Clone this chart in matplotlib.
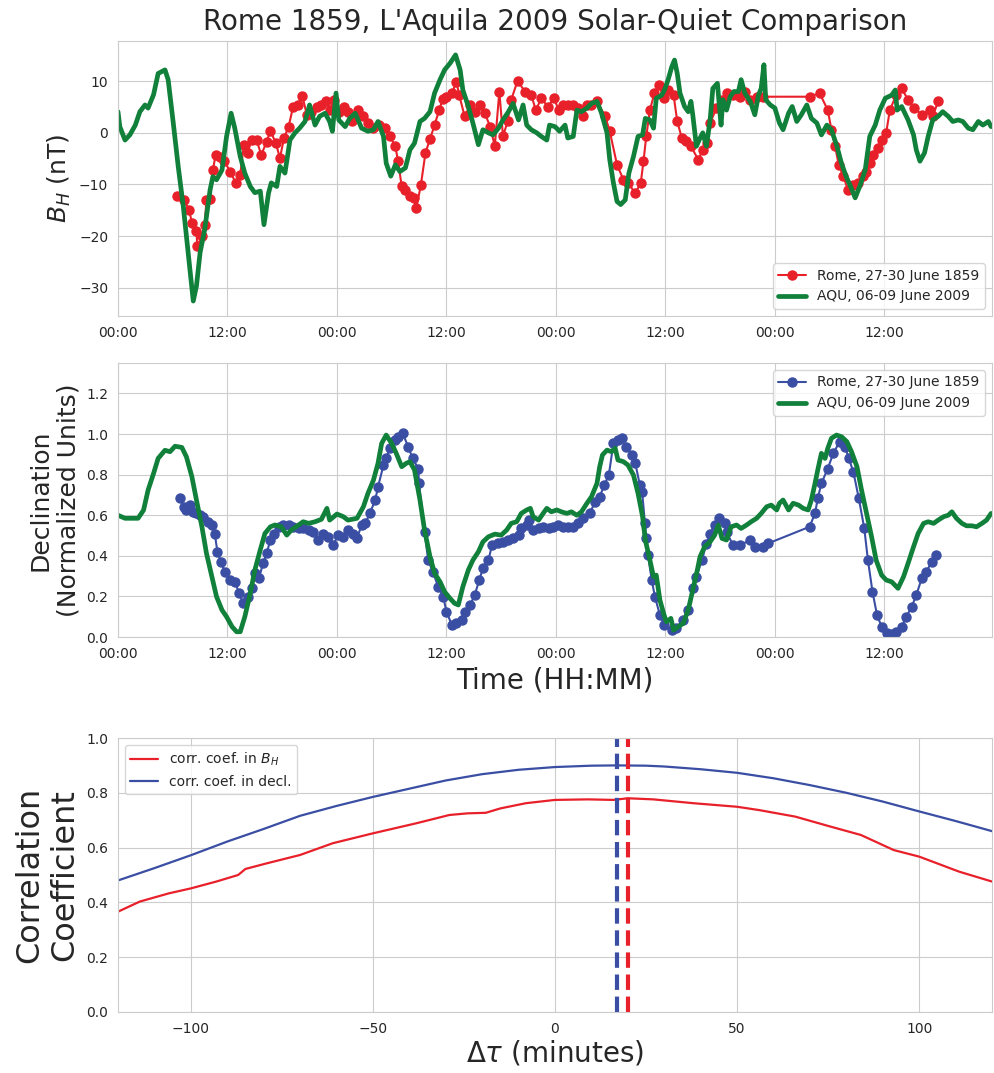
import numpy as np
import matplotlib
matplotlib.use("Agg")
import matplotlib.pyplot as plt
import seaborn as sns

# ---------------- data ----------------
# Top panel: B_H (nT) vs hours
aqu_bh_t = [0.0, 0.2, 0.77, 1.3, 1.9, 2.4, 2.96, 3.3, 3.9, 4.4, 5.15, 5.5, 6.06, 6.6, 7.16, 7.7, 8.25, 8.6, 9.0, 9.5,
            10.1, 10.4, 10.8, 11.4, 11.9, 12.4, 12.8, 13.4, 13.9, 14.5, 15.0, 15.6, 16.0, 16.5, 16.8, 17.4, 17.75, 18.3,
            18.85, 19.4, 19.9, 20.5, 21.0, 21.6, 22.1, 22.7, 23.2, 23.5, 23.9, 24.2, 24.9, 25.4, 26.0, 26.7, 27.4, 28.0,
            28.5, 29.1, 29.4, 29.9, 30.4, 30.9, 31.5, 32.0, 32.5, 33.1, 33.6, 34.2, 34.7, 35.3, 35.8, 36.4, 37.0, 37.5,
            37.8, 38.4, 38.9, 39.5, 40.0, 40.6, 41.1, 41.7, 42.2, 42.8, 43.3, 43.9, 44.4, 44.8, 45.3, 45.9, 46.4, 47.0,
            47.3, 47.9, 48.4, 49.0, 49.3, 49.9, 50.3, 50.8, 51.4, 51.9, 52.5, 53.0, 53.6, 53.9, 54.3, 54.7, 55.1, 55.6,
            56.0, 56.5, 57.0, 57.5, 57.8, 58.3, 58.7, 59.0, 59.6, 59.9, 60.3, 60.7, 61.0, 61.3, 61.6, 62.1, 62.5, 62.8,
            63.0, 63.4, 63.8, 64.1, 64.5, 64.9, 65.2, 65.7, 66.1, 66.3, 66.7, 67.1, 67.5, 68.0, 68.3, 68.7, 69.3, 69.8,
            70.2, 70.5, 70.8, 71.0, 71.5, 72.0, 72.5, 72.9, 73.5, 73.9, 74.4, 74.9, 75.5, 76.0, 76.6, 77.1, 77.7, 78.2,
            78.8, 79.3, 79.8, 80.3, 80.8, 81.3, 81.9, 82.4, 83.0, 83.5, 84.1, 84.8, 85.2, 85.4, 85.9, 86.6, 87.2, 87.5,
            87.9, 88.4, 88.8, 89.3, 89.9, 90.4, 91.0, 91.5, 92.1, 92.6, 93.2, 93.7, 94.3, 94.8, 95.4, 95.7]
aqu_bh_v = [4.1, 1.2, -1.4, -0.4, 1.5, 4.1, 5.4, 4.8, 7.4, 11.5, 12.2, 10.3, 1.9, -6.5, -14.3, -23.3, -32.6, -29.7, -23.2, -18.8,
            -11.0, -8.5, -9.1, -7.2, -0.7, 3.8, 0.9, -4.6, -7.8, -10.4, -11.6, -11.3, -17.8, -11.7, -9.7, -10.4, -6.5, -7.8,
            -1.4, 0.0, 0.9, 2.2, 5.4, 1.5, 3.2, 3.8, 2.2, 0.3, 7.7, 2.5, 1.2, 2.8, 3.8, 0.9, 0.3, 0.6,
            2.2, -0.7, -5.9, -8.4, -6.2, -7.5, -6.8, -3.3, -2.0, 2.2, 2.8, 4.1, 7.7, 10.3, 12.2, 13.5, 15.1, 12.2,
            8.3, 5.1, 1.9, -2.3, 0.6, 0.0, -0.4, 0.9, 2.5, 4.1, 5.7, 2.5, 5.4, 1.5, 0.6, 0.0, -0.7, -1.4,
            1.5, 1.2, 0.3, 1.5, -1.0, -0.7, 4.4, 4.1, 4.8, 5.7, 6.1, 3.8, 0.0, -5.2, -9.7, -13.3, -13.9, -13.0,
            -7.8, -4.6, -0.7, -0.4, 2.8, 2.5, 0.9, 6.7, 7.3, 8.3, 10.3, 12.8, 14.1, 11.5, 7.7, 5.1, 4.1, 6.1,
            3.5, -2.6, -1.0, 0.0, -2.6, 2.5, 8.6, 9.6, 1.5, 6.4, 4.4, 7.0, 8.0, 8.0, 10.3, 7.7, 6.1, 3.5,
            7.3, 8.6, 13.2, 6.4, 5.4, 4.8, 1.9, 0.6, 3.8, 5.1, 2.2, 3.5, 5.4, 2.8, 1.9, -0.4, 1.5, 0.6,
            -2.6, -5.9, -8.4, -10.4, -12.6, -10.4, -7.2, -0.7, 1.5, 4.4, 6.7, 7.3, 8.3, 4.4, 5.1, 2.5, -0.4, -3.3,
            -5.5, -3.9, -0.7, 2.5, 3.2, 4.1, 3.2, 2.2, 2.5, 2.2, 0.9, 0.6, 2.2, 1.5, 2.2, 1.2]

rome_bh_t = [6.5, 7.2, 7.8, 8.1, 8.6, 8.7, 9.2, 9.5, 9.7, 10.1, 10.4, 10.7, 11.2, 11.65, 12.3, 12.9, 13.4, 13.8, 14.2,
             14.65, 15.2, 15.7, 16.3, 16.7, 17.3, 17.75, 18.2, 18.7, 19.2, 19.7, 20.2, 20.7, 21.2, 21.8, 22.3, 22.8,
             23.2, 23.7, 24.2, 24.8, 25.2, 25.7, 26.3, 26.9, 27.4, 28.0, 28.6, 29.3, 29.8, 30.4, 30.7, 31.1, 31.5,
             32.0, 32.4, 32.7, 33.2, 33.7, 34.2, 34.7, 35.2, 35.6, 36.0, 36.6, 37.1, 37.4, 38.0, 38.6, 39.1, 39.7,
             40.2, 40.8, 41.3, 41.8, 42.2, 42.7, 43.1, 43.8, 44.6, 45.3, 45.8, 46.4, 47.1, 47.8, 48.3, 48.8, 49.3,
             49.9, 50.4, 51.0, 51.4, 51.9, 52.5, 53.4, 53.9, 54.7, 55.4, 55.9, 56.7, 57.3, 57.6, 57.9, 58.3, 58.8,
             59.3, 59.8, 60.3, 60.9, 61.3, 61.8, 62.3, 62.8, 63.6, 64.1, 64.6, 64.9, 65.6, 66.2, 66.7, 67.4, 68.2,
             68.7, 69.3, 70.0, 70.7, 75.8, 76.9, 77.8, 78.2, 78.6, 79.0, 79.5, 80.0, 80.6, 81.1, 81.7, 82.0, 82.4,
             82.8, 83.3, 83.7, 84.2, 84.6, 85.3, 85.9, 86.6, 87.3, 88.1, 89.0, 89.3, 89.9]
rome_bh_v = [-12.3, -13.0, -14.9, -17.5, -19.1, -22.0, -20.0, -17.8, -13.0, -12.8, -7.2, -4.3, -4.6, -5.5, -7.5, -9.7, -8.1, -2.3, -3.9,
             -1.4, -1.4, -4.3, -1.7, 0.4, -2.0, -4.9, -1.0, 1.2, 5.1, 5.4, 7.2, 3.5, 4.1, 5.1, 5.4, 6.1,
             4.4, 6.4, 4.1, 5.1, 4.1, 2.2, 4.4, 3.2, 1.9, 0.9, 1.5, 0.9, -0.7, -2.6, -5.5, -10.4, -11.0,
             -12.3, -12.6, -14.6, -10.1, -3.9, -1.2, 1.5, 4.4, 6.5, 7.0, 7.7, 9.9, 7.3, 3.2, 5.4, 4.1, 5.4,
             3.8, 1.2, -2.6, 8.0, -0.7, 2.2, 6.4, 10.1, 8.0, 7.3, 4.4, 6.7, 5.1, 6.7, 4.4, 5.4, 5.4,
             5.4, 4.8, 3.2, 5.4, 5.4, 6.1, 3.2, 0.3, -6.2, -9.1, -9.7, -11.7, -9.7, -5.5, -0.7, 4.4, 7.7,
             9.3, 6.7, 8.3, 7.3, 2.2, -1.0, -1.5, -2.6, -5.2, -3.3, -2.0, 1.9, 4.8, 6.4, 7.7, 7.3, 7.0,
             8.0, 6.4, 7.0, 7.0, 7.0, 7.7, 4.4, 0.6, -2.6, -6.2, -8.4, -11.0, -10.1, -9.7, -8.4, -7.5, -5.9,
             -4.3, -3.0, -1.4, 0.0, 4.4, 7.3, 8.6, 6.4, 4.8, 3.5, 4.4, 3.2, 6.1]

# Middle panel: normalized declination
aqu_d_t = [0.0, 0.77, 1.5, 2.2, 2.8, 3.3, 3.9, 4.4, 5.15, 5.7, 6.25, 7.0, 7.5, 8.1, 8.6, 9.2, 9.7, 10.3, 10.8, 11.4,
           11.9, 12.5, 13.0, 13.4, 13.9, 14.5, 15.0, 15.6, 16.1, 16.7, 17.2, 17.9, 18.5, 19.0, 19.8, 20.3, 20.9, 21.6,
           22.3, 22.9, 23.2, 24.0, 24.7, 25.2, 26.2, 26.9, 27.4, 28.0, 28.5, 28.9, 29.4, 30.0, 30.5, 31.1, 31.6, 32.0,
           32.5, 33.1, 33.6, 34.2, 34.7, 35.3, 35.8, 36.4, 36.9, 37.3, 37.8, 38.4, 38.9, 39.5, 40.0, 40.6, 41.3, 42.0,
           42.6, 43.1, 43.7, 44.2, 44.8, 45.2, 45.5, 46.1, 46.6, 47.0, 47.5, 48.1, 48.6, 49.2, 49.7, 50.3, 50.8, 51.4,
           51.9, 52.5, 52.8, 53.1, 53.6, 54.1, 54.5, 54.8, 55.4, 55.9, 56.5, 57.0, 57.5, 57.8, 58.3, 58.7, 59.0, 59.4,
           59.8, 60.1, 60.6, 60.9, 61.4, 61.95, 62.5, 63.0, 63.5, 63.8, 64.3, 64.9, 65.4, 65.8, 66.2, 66.7, 67.2, 67.8,
           68.3, 68.9, 69.4, 70.0, 70.5, 71.1, 71.6, 72.2, 72.5, 72.9, 73.5, 74.0, 74.6, 75.1, 75.65, 76.0, 76.4, 76.7,
           77.1, 77.5, 77.8, 78.2, 78.75, 79.3, 79.9, 80.4, 81.0, 81.5, 82.05, 82.6, 83.1, 83.7, 84.2, 84.8, 85.5, 86.1,
           86.6, 87.2, 87.7, 88.3, 88.8, 89.4, 89.9, 90.5, 91.0, 91.4, 91.9, 92.5, 93.0, 93.6, 94.1, 94.7, 95.2, 95.7]
aqu_d_v = [0.60, 0.585, 0.585, 0.585, 0.625, 0.724, 0.806, 0.88, 0.92, 0.913, 0.94, 0.934, 0.888, 0.79, 0.675, 0.543, 0.412, 0.297, 0.199, 0.133,
           0.10, 0.051, 0.026, 0.026, 0.10, 0.215, 0.33, 0.43, 0.51, 0.543, 0.552, 0.543, 0.502, 0.527, 0.552, 0.568, 0.56, 0.568,
           0.58, 0.634, 0.576, 0.606, 0.593, 0.576, 0.585, 0.642, 0.708, 0.773, 0.856, 0.954, 0.995, 0.954, 0.905, 0.839, 0.856, 0.864,
           0.823, 0.675, 0.527, 0.396, 0.314, 0.272, 0.223, 0.19, 0.166, 0.158, 0.248, 0.33, 0.379, 0.42, 0.469, 0.494, 0.507, 0.502,
           0.527, 0.56, 0.568, 0.609, 0.626, 0.634, 0.593, 0.576, 0.609, 0.634, 0.617, 0.626, 0.617, 0.609, 0.617, 0.60, 0.617, 0.659,
           0.691, 0.757, 0.839, 0.897, 0.921, 0.913, 0.93, 0.872, 0.864, 0.847, 0.798, 0.708, 0.593, 0.478, 0.379, 0.297, 0.305, 0.182,
           0.117, 0.075, 0.092, 0.034, 0.051, 0.067, 0.133, 0.232, 0.33, 0.396, 0.445, 0.469, 0.502, 0.552, 0.486, 0.478, 0.543, 0.552,
           0.535, 0.552, 0.568, 0.585, 0.609, 0.642, 0.65, 0.626, 0.659, 0.675, 0.626, 0.659, 0.65, 0.634, 0.626, 0.675, 0.757, 0.823,
           0.905, 0.88, 0.93, 0.979, 0.995, 0.987, 0.962, 0.913, 0.839, 0.724, 0.609, 0.494, 0.379, 0.305, 0.281, 0.272, 0.24, 0.297,
           0.363, 0.445, 0.51, 0.56, 0.568, 0.56, 0.576, 0.593, 0.60, 0.617, 0.585, 0.56, 0.548, 0.548, 0.543, 0.56, 0.576, 0.609]

rome_d_t = [6.8, 7.2, 7.5, 7.9, 8.25, 8.6, 9.0, 9.35, 9.9, 10.3, 10.6, 10.9, 11.3, 11.7, 12.3, 12.8, 13.3, 13.7, 14.2,
            14.65, 15.0, 15.45, 15.9, 16.3, 16.7, 17.1, 17.6, 18.1, 18.7, 19.2, 19.8, 20.3, 20.9, 21.4, 21.95, 22.5,
            23.0, 23.6, 24.1, 24.7, 25.2, 25.8, 26.2, 26.7, 27.1, 27.6, 28.2, 28.5, 29.1, 29.4, 29.8, 30.4, 30.7,
            31.2, 31.8, 32.3, 32.9, 33.0, 33.6, 34.0, 34.5, 35.1, 35.65, 36.0, 36.6, 37.1, 37.7, 38.0, 38.6, 39.1,
            39.6, 40.0, 40.6, 41.0, 41.6, 42.2, 42.8, 43.3, 43.9, 44.2, 44.8, 45.0, 45.5, 46.1, 46.6, 47.2, 47.7,
            48.25, 48.8, 49.3, 49.9, 50.4, 51.0, 51.7, 52.3, 52.8, 53.3, 53.8, 54.3, 54.8, 55.2, 55.7, 56.3, 56.7,
            57.2, 57.45, 57.75, 57.9, 58.1, 58.5, 58.85, 59.4, 59.9, 60.7, 61.2, 61.9, 62.5, 63.0, 63.4, 64.0, 64.5,
            64.9, 65.4, 65.9, 66.5, 66.7, 67.4, 68.2, 69.3, 69.8, 70.7, 71.3, 75.8, 76.4, 76.7, 77.1, 77.8, 78.4,
            79.1, 79.7, 80.1, 80.6, 81.2, 81.8, 82.2, 82.7, 83.2, 83.7, 84.3, 84.8, 85.3, 85.9, 86.4, 87.0, 87.5,
            88.1, 88.6, 89.2, 89.7]
rome_d_v = [0.683, 0.642, 0.626, 0.65, 0.617, 0.609, 0.60, 0.593, 0.568, 0.552, 0.51, 0.42, 0.371, 0.322, 0.281, 0.272, 0.215, 0.166, 0.199,
            0.24, 0.314, 0.289, 0.363, 0.412, 0.478, 0.51, 0.543, 0.552, 0.552, 0.543, 0.535, 0.535, 0.527, 0.519, 0.478, 0.51,
            0.494, 0.453, 0.502, 0.494, 0.527, 0.51, 0.486, 0.552, 0.56, 0.609, 0.675, 0.74, 0.847, 0.88, 0.93, 0.97, 0.987,
            1.006, 0.937, 0.88, 0.83, 0.757, 0.519, 0.379, 0.322, 0.248, 0.199, 0.125, 0.059, 0.067, 0.084, 0.125, 0.158, 0.207,
            0.281, 0.338, 0.379, 0.453, 0.465, 0.469, 0.478, 0.486, 0.502, 0.535, 0.552, 0.576, 0.527, 0.535, 0.543, 0.535, 0.543,
            0.552, 0.543, 0.543, 0.543, 0.56, 0.585, 0.609, 0.666, 0.691, 0.749, 0.798, 0.954, 0.97, 0.979, 0.937, 0.897, 0.856,
            0.749, 0.716, 0.56, 0.487, 0.404, 0.281, 0.199, 0.108, 0.059, 0.034, 0.044, 0.084, 0.133, 0.24, 0.297, 0.379, 0.46,
            0.51, 0.552, 0.585, 0.56, 0.519, 0.453, 0.453, 0.478, 0.445, 0.445, 0.462, 0.543, 0.609, 0.683, 0.757, 0.83, 0.905,
            0.962, 0.937, 0.88, 0.814, 0.683, 0.535, 0.379, 0.223, 0.108, 0.051, 0.018, 0.015, 0.026, 0.051, 0.10, 0.149, 0.207,
            0.289, 0.322, 0.371, 0.404]

# Bottom panel: correlation coefficient vs lag (minutes)
cc_bh_tau = [-120, -114, -106, -100, -93, -87, -85, -79, -70, -61, -50, -38, -29, -24, -19, -15, -8, 0, 9, 16, 20,
             27, 38, 50, 56, 66, 75, 84, 93, 100, 111, 120]
cc_bh_val = [0.366, 0.403, 0.433, 0.451, 0.476, 0.500, 0.522, 0.543, 0.573, 0.616, 0.652, 0.689, 0.719, 0.725, 0.727,
             0.743, 0.762, 0.774, 0.776, 0.774, 0.780, 0.776, 0.762, 0.749, 0.737, 0.713, 0.679, 0.646, 0.591, 0.567,
             0.512, 0.476]
cc_d_tau = [-120, -110, -100, -90, -80, -70, -60, -50, -40, -30, -20, -10, 0, 10, 17, 25, 30, 40, 50, 60, 70, 80, 90,
            100, 110, 120]
cc_d_val = [0.480, 0.525, 0.572, 0.622, 0.668, 0.716, 0.752, 0.785, 0.815, 0.845, 0.868, 0.884, 0.894, 0.899, 0.900,
            0.899, 0.896, 0.886, 0.873, 0.853, 0.828, 0.800, 0.768, 0.732, 0.697, 0.660]
best_lag_d = 17
best_lag_bh = 20

tick_hours = [0, 12, 24, 36, 48, 60, 72, 84]
tick_labels = ["00:00", "12:00"] * 4

# ---------------- style ----------------
sns.set_style("whitegrid")
plt.rcParams['font.family'] = ['DejaVu Sans']

RED = "#e8202a"
GREEN = "#10803a"
BLUE = "#3a4ea3"
TXT = "#262626"

fig = plt.figure(figsize=(9.94, 10.73), dpi=100)
L, W = 0.1187, 0.8793
ax1 = fig.add_axes([L, 0.7055, W, 0.2563])
ax2 = fig.add_axes([L, 0.4063, W, 0.2554])
ax3 = fig.add_axes([L, 0.0569, W, 0.2553])

# Top
ax1.plot(rome_bh_t, rome_bh_v, '-o', color=RED, lw=1.5, ms=6.5, label="Rome, 27-30 June 1859")
ax1.plot(aqu_bh_t, aqu_bh_v, '-', color=GREEN, lw=3.4, label="AQU, 06-09 June 2009")
ax1.set_xlim(0, 95.8)
ax1.set_ylim(-35.5, 17.8)
ax1.set_yticks([-30, -20, -10, 0, 10])
ax1.set_xticks(tick_hours)
ax1.set_xticklabels(tick_labels)
ax1.set_ylabel("$B_H$ (nT)", fontsize=18, color=TXT)
ax1.set_title("Rome 1859, L'Aquila 2009 Solar-Quiet Comparison", fontsize=20, color=TXT, pad=8)
ax1.legend(loc="lower right", fontsize=10)

# Middle
ax2.plot(rome_d_t, rome_d_v, '-o', color=BLUE, lw=1.5, ms=6.5, label="Rome, 27-30 June 1859")
ax2.plot(aqu_d_t, aqu_d_v, '-', color=GREEN, lw=3.4, label="AQU, 06-09 June 2009")
ax2.set_xlim(0, 95.8)
ax2.set_ylim(0, 1.35)
ax2.set_yticks([0.0, 0.2, 0.4, 0.6, 0.8, 1.0, 1.2])
ax2.set_xticks(tick_hours)
ax2.set_xticklabels(tick_labels)
ax2.set_ylabel("Declination\n(Normalized Units)", fontsize=18, color=TXT)
ax2.set_xlabel("Time (HH:MM)", fontsize=20, color=TXT, labelpad=4)
ax2.legend(loc="upper right", fontsize=10)

# Bottom
ax3.plot(cc_bh_tau, cc_bh_val, '-', color=RED, lw=1.6, label="corr. coef. in $B_H$")
ax3.plot(cc_d_tau, cc_d_val, '-', color=BLUE, lw=1.6, label="corr. coef. in decl.")
ax3.axvline(best_lag_d, color=BLUE, ls='--', lw=3)
ax3.axvline(best_lag_bh, color=RED, ls='--', lw=3)
ax3.set_xlim(-120, 120)
ax3.set_ylim(0, 1.0)
ax3.set_yticks([0.0, 0.2, 0.4, 0.6, 0.8, 1.0])
ax3.set_xticks([-100, -50, 0, 50, 100])
ax3.set_ylabel("Correlation\nCoefficient", fontsize=23, color=TXT)
ax3.set_xlabel(r"$\Delta\tau$ (minutes)", fontsize=20, color=TXT, labelpad=2)
ax3.legend(loc="upper left", fontsize=10)

for ax in (ax1, ax2, ax3):
    ax.tick_params(labelsize=10, colors=TXT)

fig.savefig("out.png", dpi=100)
